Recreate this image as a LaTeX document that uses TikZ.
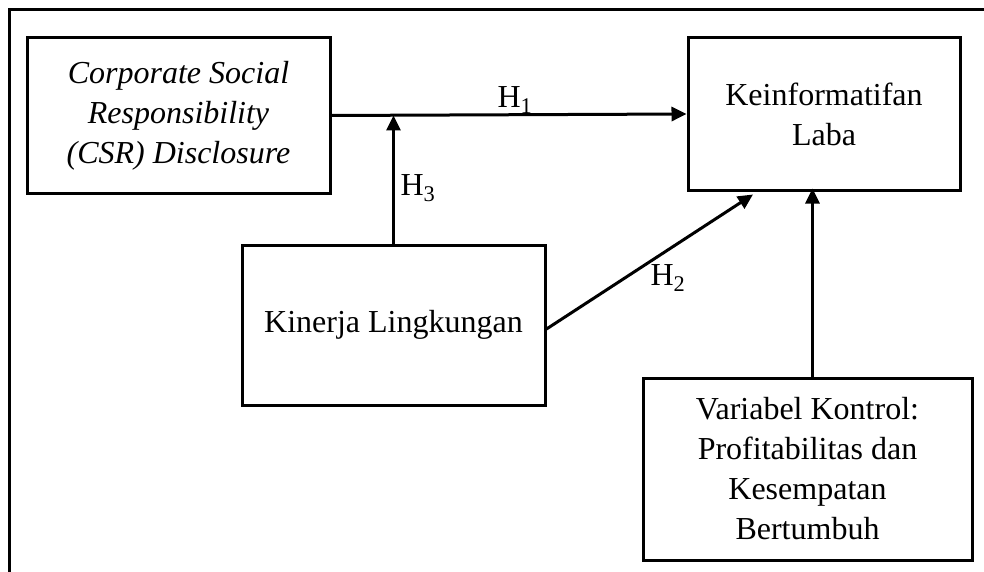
\documentclass[tikz,border=0pt]{standalone}
\usepackage{fontspec}
\setmainfont{Liberation Serif}
\usetikzlibrary{arrows.meta}
\begin{document}
\begin{tikzpicture}[x=1pt,y=-1pt,
  box/.style={draw,line width=3pt,align=center,inner sep=0pt,font=\fontsize{32}{40}\selectfont},
  conn/.style={line width=3pt,-{Triangle[length=15pt,width=14pt]}},
  lbl/.style={font=\fontsize{32}{38}\selectfont,inner sep=0pt}]
\useasboundingbox (0,0) rectangle (984,572);
\draw[line width=3pt] (9,600) -- (9,10) -- (1000,10);
\node[box,minimum width=303pt,minimum height=155pt] (csr) at (178.5,115.5)
  {\itshape Corporate Social\\ \itshape Responsibility\\ \itshape (CSR) Disclosure};
\node[box,minimum width=272pt,minimum height=152pt] (kl) at (824,114)
  {Keinformatifan\\Laba};
\node[box,minimum width=303pt,minimum height=160pt] (kin) at (393.5,325)
  {Kinerja Lingkungan};
\node[box,minimum width=329pt,minimum height=182pt] (ctrl) at (807.5,469)
  {Variabel Kontrol:\\Profitabilitas dan\\Kesempatan\\Bertumbuh};
\path (kl.south) ++(-71,3) coordinate (h2end);
\draw[conn] (csr.east) -- (kl.west);
\draw[conn] (kin.north) -- (kin.north |- csr.east);
\draw[conn] ([yshift=-4pt]kin.east) -- (h2end);
\draw[conn] ([xshift=5pt]ctrl.north) -- ([xshift=5pt,yshift=3pt]ctrl.north |- kl.south);
\node[lbl] (h1) at (515,100) {H\textsubscript{1}};
\node[lbl] (h3) at (418,188) {H\textsubscript{3}};
\node[lbl] (h2) at (668,278) {H\textsubscript{2}};
\end{tikzpicture}
\end{document}
